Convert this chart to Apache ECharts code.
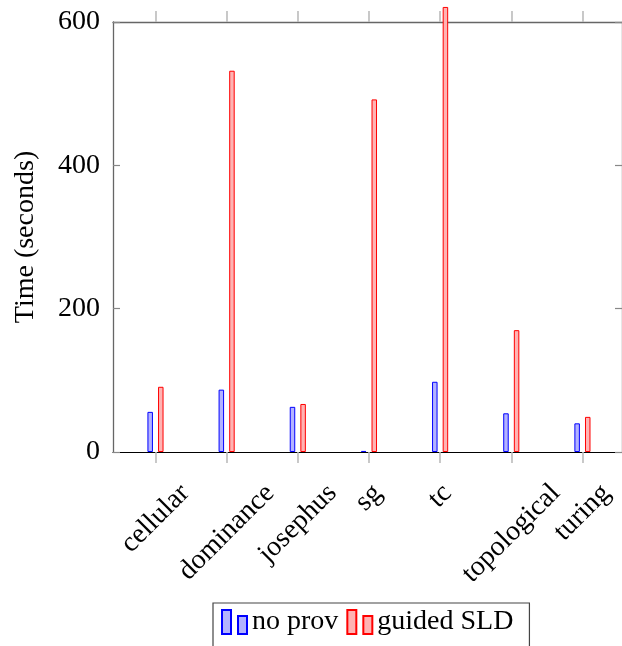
<!DOCTYPE html>
<html>
<head>
<meta charset="utf-8">
<script src="https://cdn.jsdelivr.net/npm/echarts@6/dist/echarts.min.js"></script>
<style>
html,body{margin:0;padding:0;background:#fff;}
#main{width:622px;height:646px;}
</style>
</head>
<body>
<div id="main"></div>
<script>
var categories = ['cellular', 'dominance', 'josephus', 'sg', 'tc', 'topological', 'turing'];
var noProv = [56, 87, 63, 1.5, 98, 54, 40];
var guidedSLD = [91, 532, 67, 492, 621, 170, 49];
var yTicks = [0, 200, 400, 600];

var FONT = '"Liberation Serif", "Times New Roman", serif';
var FS = 28;

var chart = echarts.init(document.getElementById('main'), null, {renderer: 'canvas'});

// measure label widths to centre rotated labels on ticks
var ctx = document.createElement('canvas').getContext('2d');
ctx.font = FS + 'px ' + FONT;
var rich = {};
categories.forEach(function (c, i) {
  var L = ctx.measureText(c).width;
  var P = 0.5 * (L + FS);
  rich['l' + i] = {
    fontFamily: FONT, fontSize: FS, color: '#000',
    padding: [P, P, 0, 0]
  };
});

var catIdx = categories.map(function (c, i) { return i; });
function pairs(arr) { return arr.map(function (v, i) { return [i, v]; }); }

var option = {
  animation: false,
  backgroundColor: '#fff',
  grid: {left: 113, right: -6, top: 22, bottom: 194, containLabel: false},
  xAxis: [{
    type: 'value', position: 'bottom',
    min: -0.597, max: 6.556,
    splitLine: {show: false},
    axisLine: {show: true, onZero: false, lineStyle: {color: '#000', width: 1.2}},
    axisTick: {show: true, inside: false, length: 11, customValues: catIdx,
      lineStyle: {color: '#bbb', width: 1.6}},
    axisLabel: {
      show: true, customValues: catIdx, rotate: 45, margin: 27,
      align: 'center', verticalAlign: 'middle',
      fontFamily: FONT, fontSize: FS, color: '#000',
      formatter: function (v) {
        var i = Math.round(v);
        return '{l' + i + '|' + categories[i] + '}';
      },
      rich: rich
    }
  }, {
    type: 'value', position: 'top',
    min: -0.597, max: 6.556,
    splitLine: {show: false},
    axisLine: {show: true, onZero: false, lineStyle: {color: '#666', width: 1.3}},
    axisTick: {show: true, inside: false, length: 11, customValues: catIdx,
      lineStyle: {color: '#bbb', width: 1.6}},
    axisLabel: {show: false}
  }],
  yAxis: [{
    type: 'value', position: 'left',
    min: yTicks[0], max: yTicks[yTicks.length - 1], interval: 200,
    splitLine: {show: false},
    axisLine: {show: true, onZero: false, lineStyle: {color: '#666', width: 1.3}},
    axisTick: {show: true, inside: true, length: 7, lineStyle: {color: '#888', width: 1.2}},
    axisLabel: {fontFamily: FONT, fontSize: FS, color: '#000', margin: 13},
    name: 'Time (seconds)', nameLocation: 'middle', nameGap: 73, nameRotate: 90,
    nameTextStyle: {fontFamily: FONT, fontSize: FS, color: '#000'}
  }, {
    type: 'value', position: 'right',
    min: yTicks[0], max: yTicks[yTicks.length - 1], interval: 200,
    splitLine: {show: false},
    axisLine: {show: true, onZero: false, lineStyle: {color: '#666', width: 1.3}},
    axisTick: {show: true, inside: true, length: 7, lineStyle: {color: '#888', width: 1.2}},
    axisLabel: {show: false}
  }],
  legend: {
    left: 213, top: 603,
    orient: 'horizontal',
    data: ['no prov', 'guided SLD'],
    icon: 'path://M0,0 H9 V24 H0 Z M16,6 H25 V24 H16 Z',
    itemWidth: 25, itemHeight: 24, itemGap: 8,
    padding: [5, 16, 16, 8],
    backgroundColor: '#fff',
    borderColor: '#444', borderWidth: 1.2, borderRadius: 0,
    textStyle: {fontFamily: FONT, fontSize: FS, color: '#000'}
  },
  series: [{
    name: 'no prov', type: 'bar', xAxisIndex: 0, yAxisIndex: 0,
    data: pairs(noProv), barWidth: 5.5, barGap: '93%', clip: false,
    itemStyle: {color: '#b3b3ff', borderColor: '#0000ff', borderWidth: 1}
  }, {
    name: 'guided SLD', type: 'bar', xAxisIndex: 0, yAxisIndex: 0,
    data: pairs(guidedSLD), barWidth: 5.5, barGap: '93%', clip: false,
    itemStyle: {color: '#ffb3b3', borderColor: '#ff0000', borderWidth: 1}
  }]
};
chart.setOption(option);
</script>
</body>
</html>
